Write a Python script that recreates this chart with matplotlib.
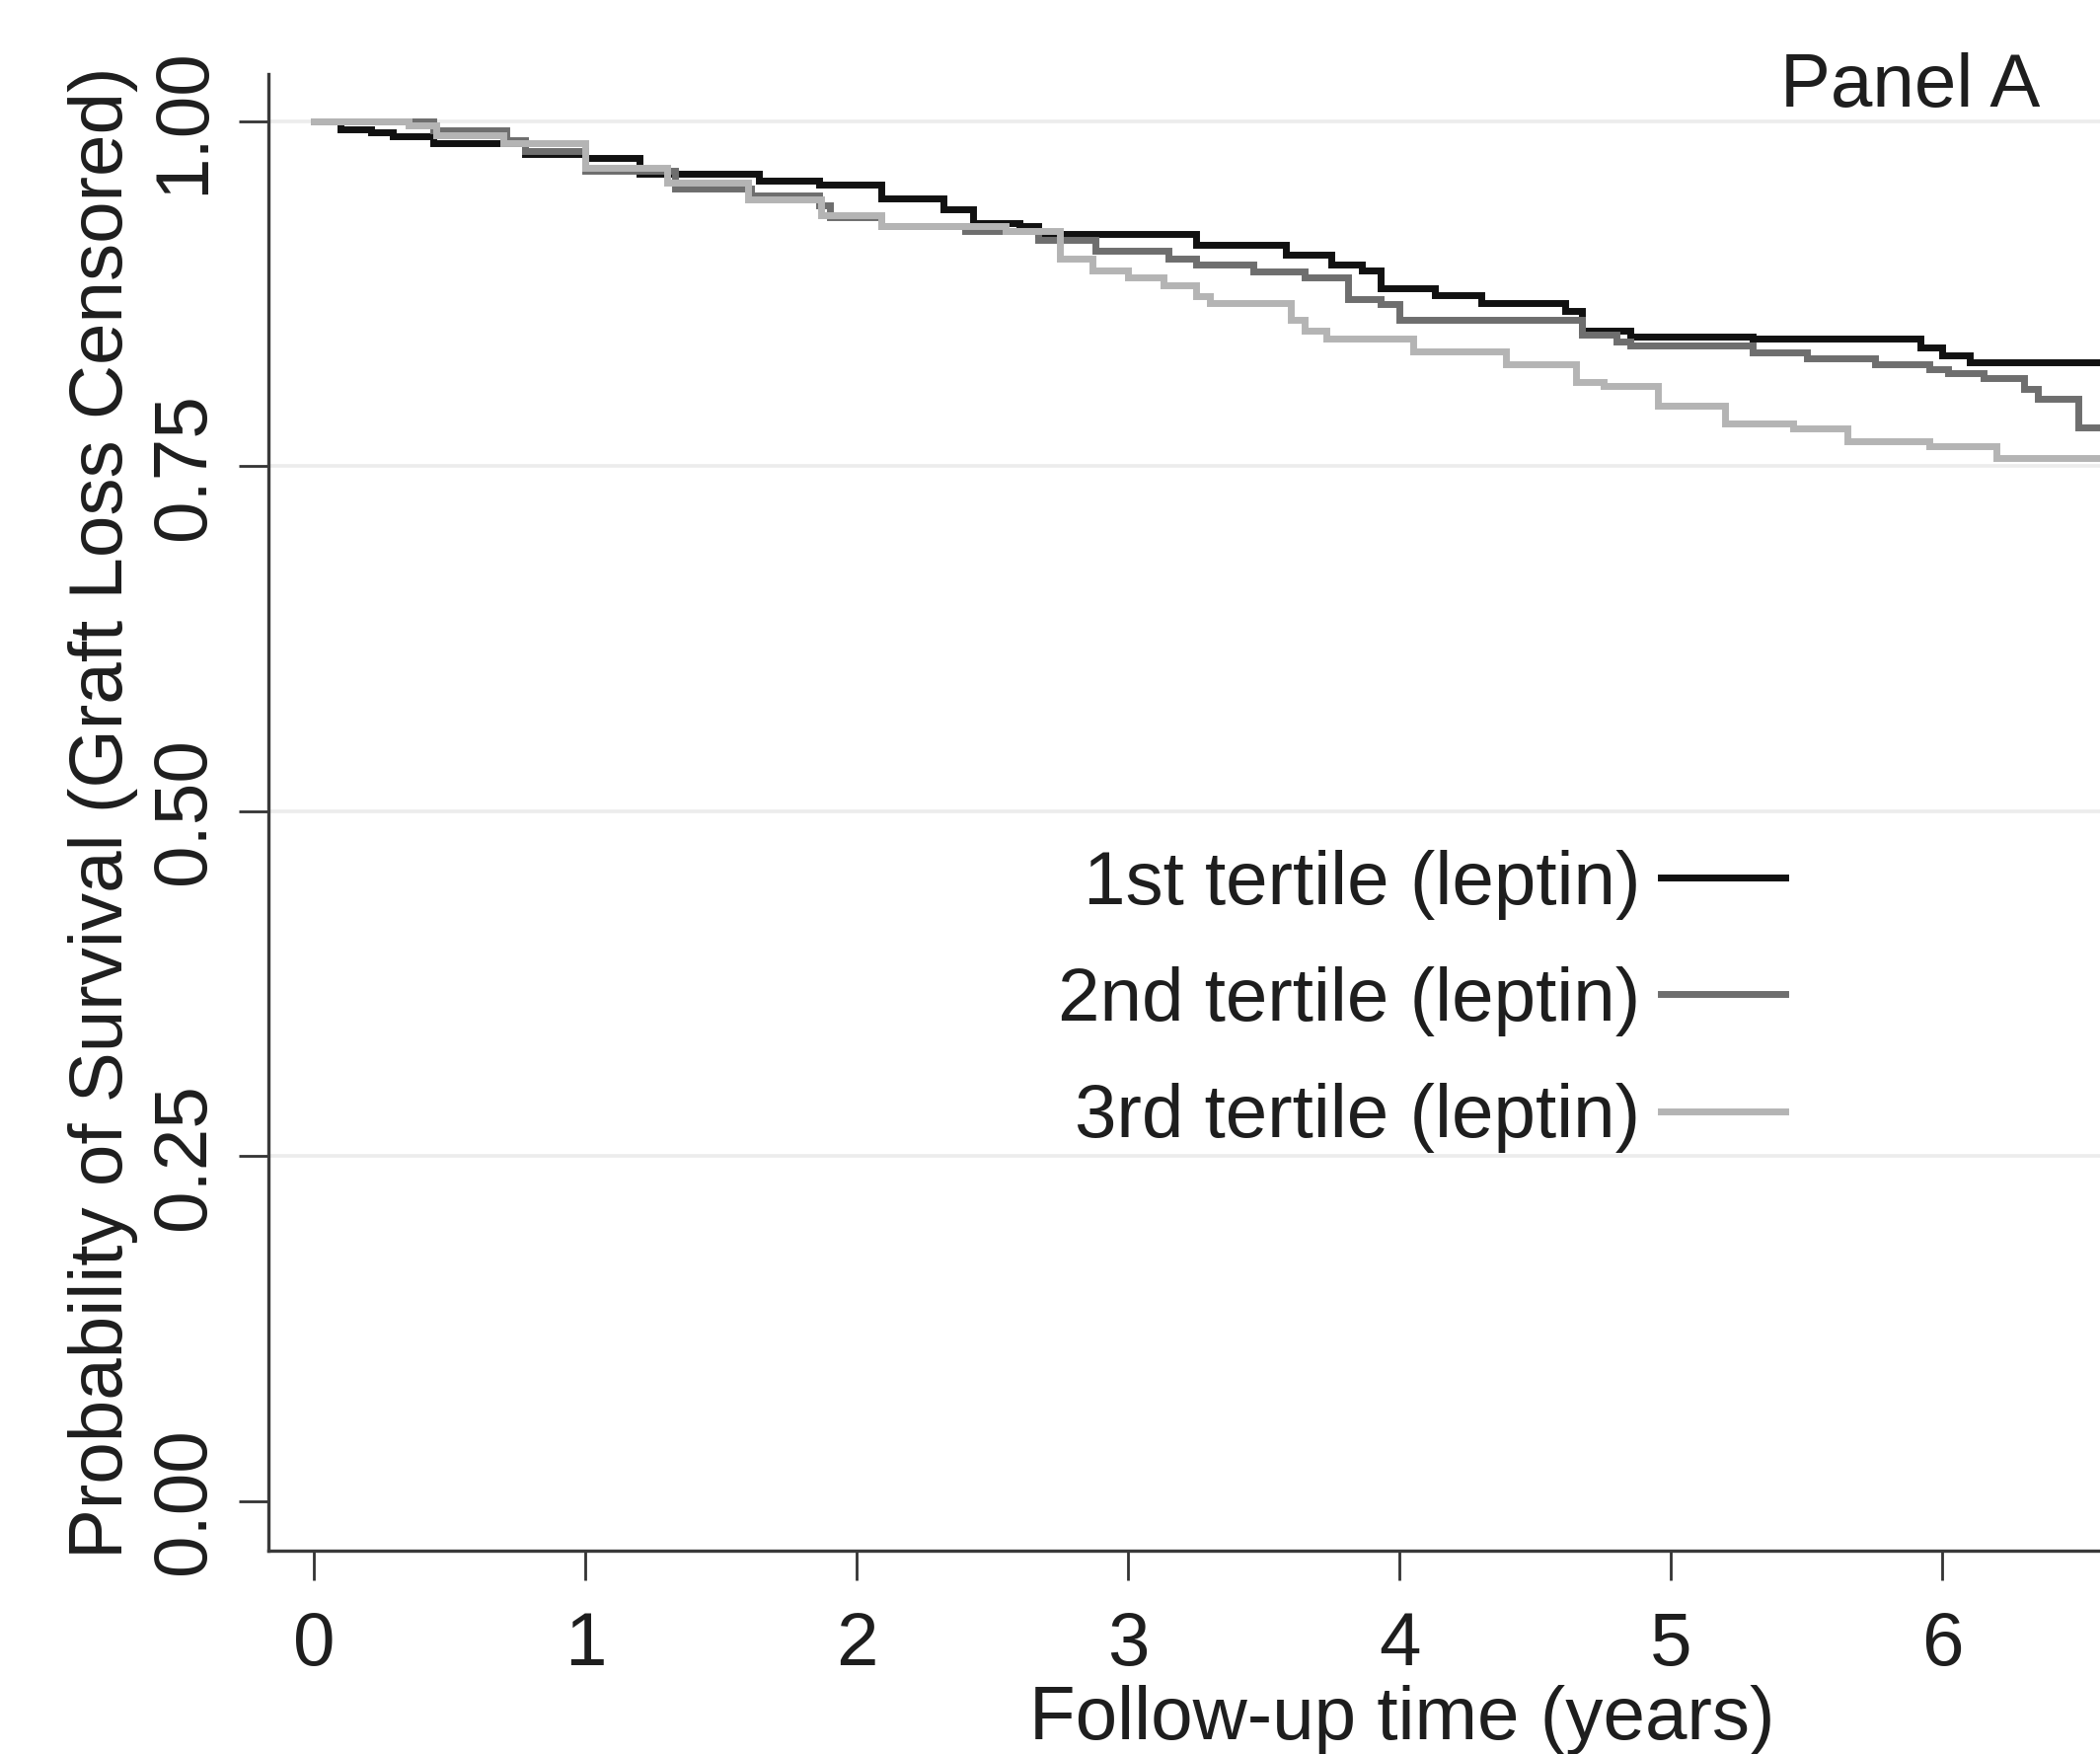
import matplotlib
matplotlib.use("Agg")
import matplotlib.pyplot as plt
from matplotlib.lines import Line2D

# === Data ===
t1 = [0, 0.1, 0.21, 0.29, 0.44, 0.78, 1.0, 1.2, 1.64, 1.86, 2.09, 2.32, 2.43, 2.6, 2.67,
      3.25, 3.58, 3.75, 3.86, 3.93, 4.13, 4.3, 4.61, 4.67, 4.85, 5.3, 5.92, 6.0, 6.1, 6.8]
s1 = [1.0, 0.994, 0.992, 0.989, 0.984, 0.976, 0.973, 0.962, 0.957, 0.954, 0.944, 0.936, 0.926, 0.924, 0.918,
      0.91, 0.903, 0.896, 0.892, 0.879, 0.874, 0.868, 0.862, 0.848, 0.844, 0.842, 0.836, 0.83, 0.825, 0.825]

t2 = [0, 0.44, 0.71, 0.78, 1.0, 1.33, 1.61, 1.86, 1.9, 2.09, 2.4, 2.67, 2.88, 3.15, 3.25, 3.46, 3.65,
      3.81, 3.93, 4.0, 4.67, 4.8, 4.85, 5.3, 5.5, 5.75, 5.95, 6.02, 6.15, 6.3, 6.35, 6.5, 6.8]
s2 = [1.0, 0.993, 0.986, 0.978, 0.964, 0.951, 0.946, 0.939, 0.93, 0.924, 0.92, 0.914, 0.906, 0.9, 0.896, 0.891, 0.887,
      0.871, 0.867, 0.856, 0.845, 0.84, 0.837, 0.832, 0.828, 0.824, 0.82, 0.817, 0.814, 0.806, 0.799, 0.778, 0.778]

t3 = [0, 0.35, 0.45, 0.7, 1.0, 1.3, 1.6, 1.87, 2.09, 2.55, 2.75, 2.87, 3.0, 3.13, 3.25, 3.3, 3.6, 3.65,
      3.73, 4.05, 4.39, 4.65, 4.75, 4.95, 5.2, 5.45, 5.65, 5.95, 6.2, 6.8]
s3 = [1.0, 0.997, 0.99, 0.984, 0.966, 0.955, 0.943, 0.932, 0.924, 0.92, 0.9, 0.892, 0.887, 0.881, 0.873, 0.868, 0.856, 0.848,
      0.842, 0.833, 0.824, 0.811, 0.808, 0.794, 0.781, 0.777, 0.768, 0.764, 0.756, 0.756]

labels = ["1st tertile (leptin)", "2nd tertile (leptin)", "3rd tertile (leptin)"]
colors = ["#111111", "#6e6e6e", "#b4b4b4"]
x_ticks = [0, 1, 2, 3, 4, 5, 6]
y_ticks = [0.0, 0.25, 0.5, 0.75, 1.0]
y_tick_labels = ["0.00", "0.25", "0.50", "0.75", "1.00"]

# === Plot ===
plt.rcParams["font.family"] = ["Liberation Sans", "DejaVu Sans"]
fs = 55
lw = 5.0
text_color = "#1e1e1e"

fig = plt.figure(figsize=(21.28, 17.77), dpi=100)
ax = fig.add_axes([0.1278, 0.1159, 0.8722, 0.8419])

for t, s, c in zip([t1, t2, t3], [s1, s2, s3], colors):
    ax.plot(t, s, drawstyle="steps-post", color=c, lw=lw, solid_joinstyle="miter")

ax.set_xticks(x_ticks)
ax.set_yticks(y_ticks)
ax.set_yticklabels(y_tick_labels, rotation=90, va="center")
ax.set_xlim(-0.167, 6.58)
ax.set_ylim(-0.036, 1.034)
ax.tick_params(axis="both", direction="out", length=21.6, width=2.0, colors="#333333",
               labelsize=fs, labelcolor=text_color)
ax.tick_params(axis="x", pad=22)
ax.tick_params(axis="y", pad=14)

ax.grid(axis="y", color="#ececec", lw=2.6)
ax.get_ygridlines()[0].set_visible(False)
ax.set_axisbelow(True)

for side in ["top", "right"]:
    ax.spines[side].set_visible(False)
for side in ["left", "bottom"]:
    ax.spines[side].set_color("#3a3a3a")
    ax.spines[side].set_linewidth(2.4)

ax.set_ylabel("Probability of Survival (Graft Loss Censored)", fontsize=fs, color=text_color)
ax.yaxis.set_label_coords(-0.071, 0.5)
ax.set_xlabel("Follow-up time (years)", fontsize=fs, color=text_color)
ax.xaxis.set_label_coords(0.619, -0.091)

ax.text(5.88, 1.024, "Panel A", fontsize=fs, color=text_color, ha="center", va="center")

handles = [Line2D([], [], color=c, lw=lw) for c in colors]
ax.legend(handles, labels, loc="upper right", bbox_to_anchor=(5.42, 0.472),
          bbox_transform=ax.transData, markerfirst=False, frameon=False,
          fontsize=fs, handlelength=1.65, handletextpad=0.27, labelspacing=0.62,
          borderpad=0, borderaxespad=0, labelcolor=text_color)

plt.savefig("out.png", dpi=100)
